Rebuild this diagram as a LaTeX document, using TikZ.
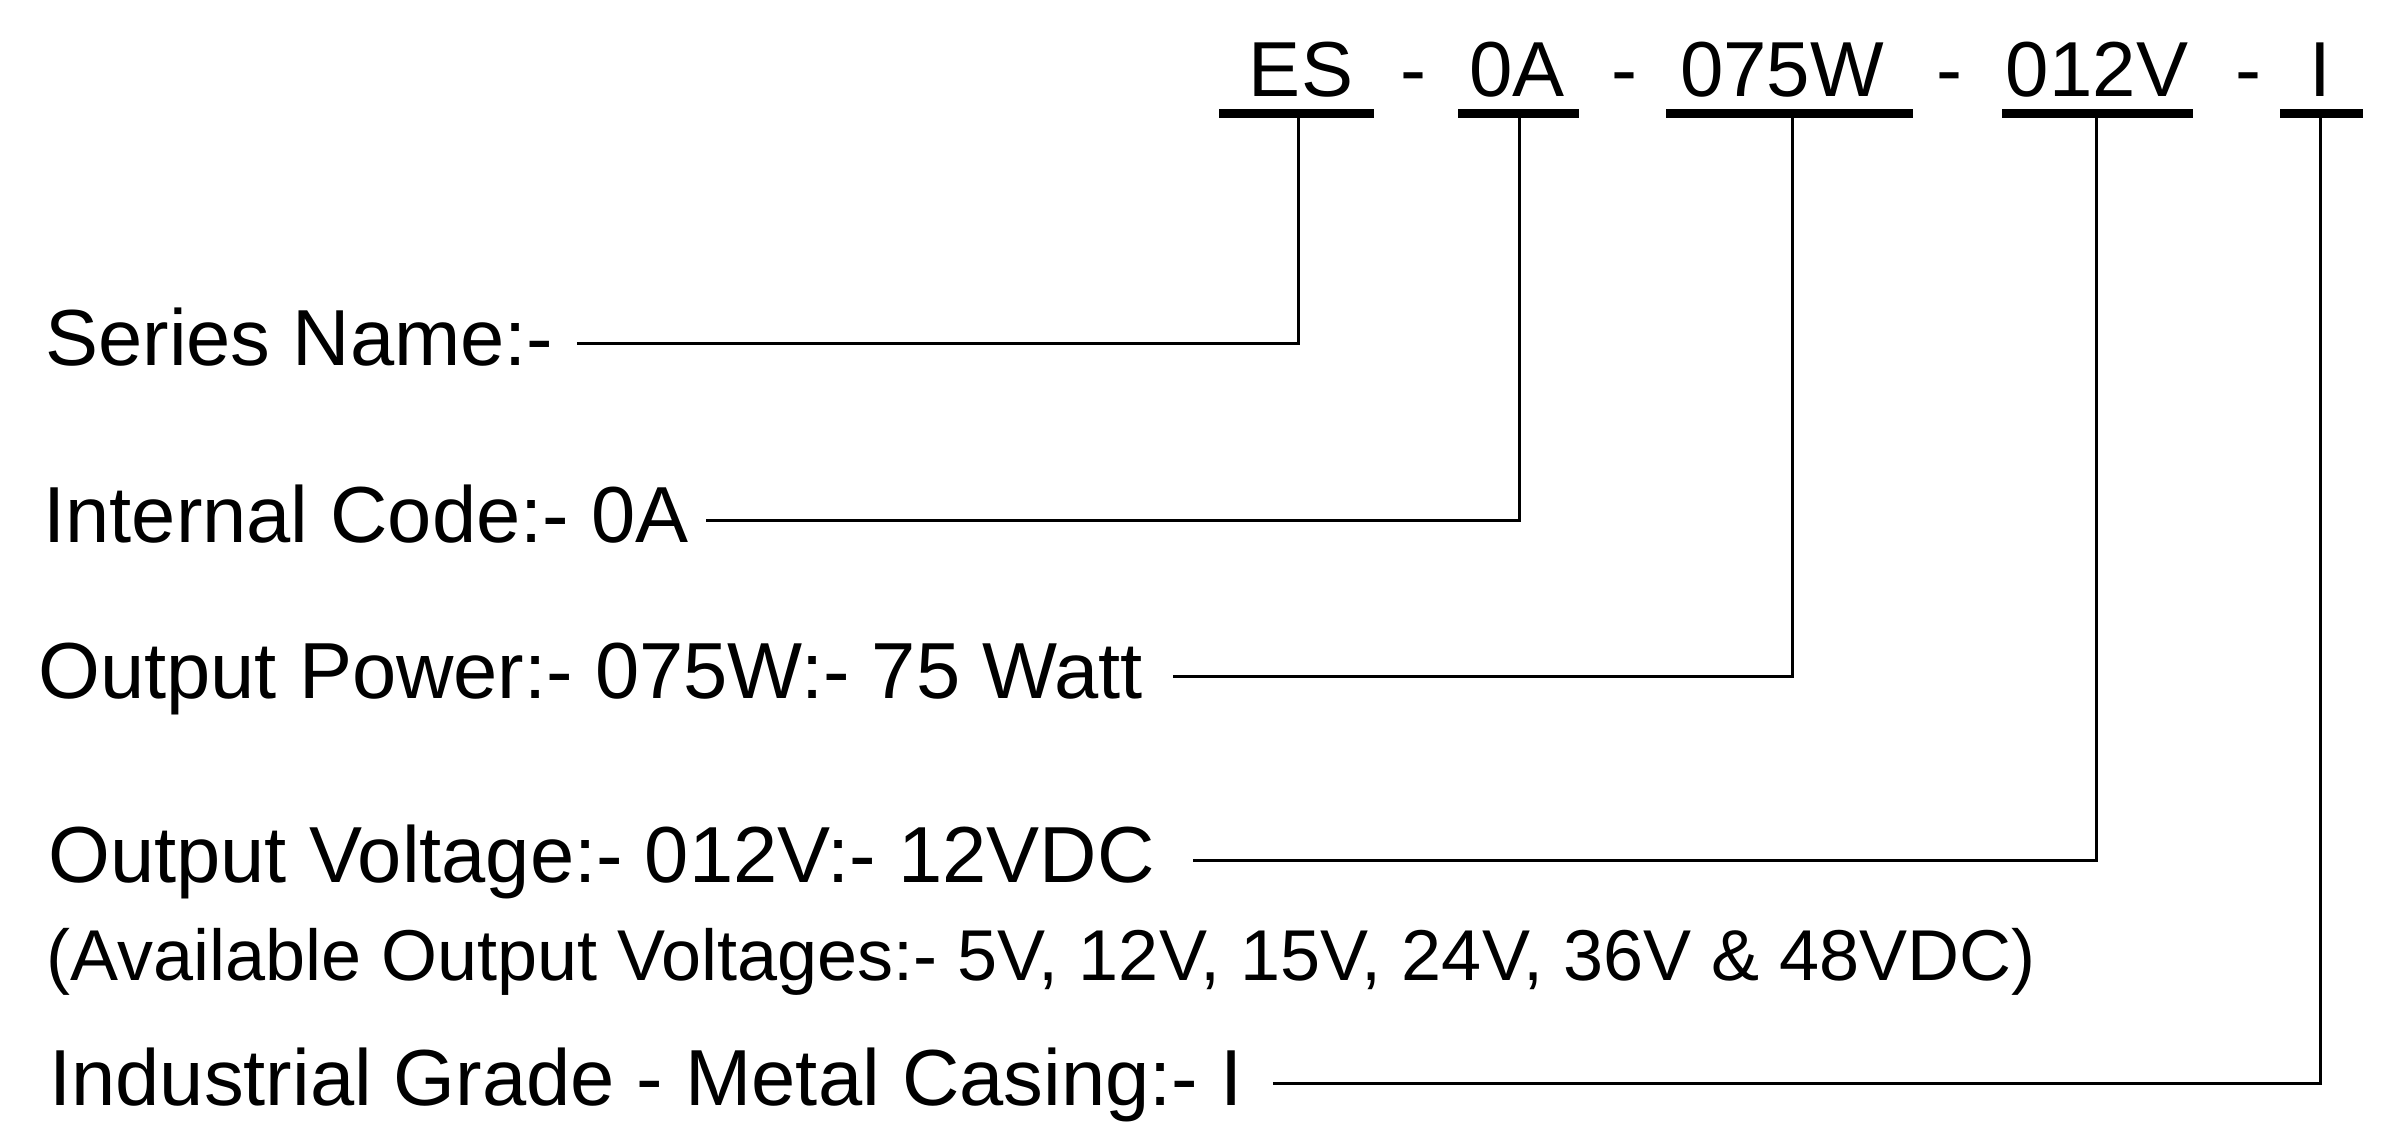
\documentclass[tikz,border=0pt]{standalone}
\usepackage{fontspec}
\setmainfont{Liberation Sans}
\begin{document}
\begin{tikzpicture}[x=0.5pt,y=-0.5pt,
  lbl/.style={anchor=base west,inner xsep=0pt,inner ysep=0pt,text height=29.8pt,text depth=7.95pt,font=\fontsize{39.75}{48}\selectfont},
  small/.style={anchor=base west,inner sep=0pt,font=\fontsize{36}{43}\selectfont},
  code/.style={anchor=base,inner sep=0pt,font=\fontsize{39}{47}\selectfont},
  ul/.style={line width=4.5pt},
  conn/.style={line width=1.5pt}]
\fill[white] (0,0) rectangle (2381,1128);
\useasboundingbox (0,0) rectangle (2381,1128);
% code
\node[code] (cES) at (1301,97) {ES};
\node[code] (d1) at (1413,97) {-};
\node[code] (c0A) at (1517,97) {0A};
\node[code] (d2) at (1624,97) {-};
\node[code] (c075) at (1782,97) {075W};
\node[code] (d3) at (1949,97) {-};
\node[code] (c012) at (2097,97) {012V};
\node[code] (d4) at (2248,97) {-};
\node[code] (cI) at (2320,97) {I};
% underlines
\draw[ul] (1219,114) -- (1374,114);
\draw[ul] (1458,114) -- (1579,114);
\draw[ul] (1666,114) -- (1913,114);
\draw[ul] (2002,114) -- (2193,114);
\draw[ul] (2280,114) -- (2363,114);
\coordinate (uES) at (1298,114);
\coordinate (u0A) at (1519,114);
\coordinate (u075) at (1792,114);
\coordinate (u012) at (2096,114);
\coordinate (uI) at (2320,114);
% labels
\node[lbl] (series) at (45,365) {Series Name:-};
\node[lbl] (internal) at (43,542) {Internal Code:- 0A};
\node[lbl] (power) at (38,698) {Output Power:- 075W:- 75 Watt};
\node[lbl] (voltage) at (48,882) {Output Voltage:- 012V:- 12VDC};
\node[small] (avail) at (46,980) {(Available Output Voltages:- 5V, 12V, 15V, 24V, 36V \& 48VDC)};
\node[lbl] (industrial) at (49,1105) {Industrial Grade - Metal Casing:- I};
% connectors
\draw[conn] ([xshift=11.5pt]series.east) -| (uES);
\draw[conn] ([xshift=8.5pt]internal.east) -| (u0A);
\draw[conn] ([xshift=15pt]power.east) -| (u075);
\draw[conn] ([xshift=19pt]voltage.east) -| (u012);
\draw[conn] ([xshift=15pt]industrial.east) -| (uI);
\end{tikzpicture}
\end{document}
